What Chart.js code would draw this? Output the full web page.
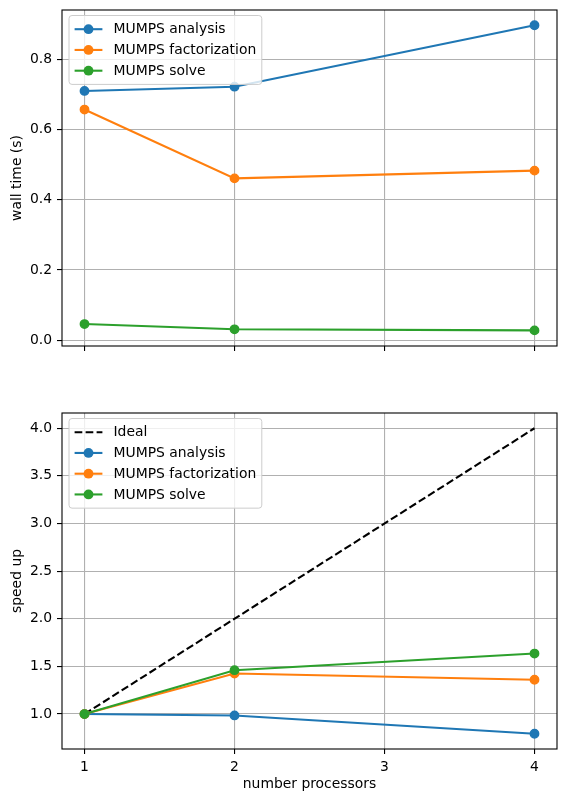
<!DOCTYPE html>
<html>
<head>
<meta charset="utf-8">
<script src="https://cdn.jsdelivr.net/npm/chart.js@4.4.0/dist/chart.umd.min.js"></script>
<style>
  html, body { margin: 0; padding: 0; background: #ffffff; }
  #wrap { position: relative; width: 567px; height: 802px; }
  canvas { position: absolute; left: 0; }
</style>
</head>
<body>
<div id="wrap">
  <canvas id="top" width="567" height="372" style="top:0px"></canvas>
  <canvas id="bottom" width="567" height="422" style="top:380px"></canvas>
</div>
<script>
// ---- data ----
const procs = [1, 2, 4];
const xTicks = [1, 2, 3, 4];
const timeTicks = [0.0, 0.2, 0.4, 0.6, 0.8];
const speedTicks = [1.0, 1.5, 2.0, 2.5, 3.0, 3.5, 4.0];

const timeAnalysis = [0.710, 0.722, 0.897];
const timeFactorization = [0.657, 0.461, 0.483];
const timeSolve = [0.046, 0.031, 0.028];

const idealProcs = [1, 4];
const idealSpeedup = [1, 4];
const speedAnalysis = [1.0, 0.985, 0.793];
const speedFactorization = [1.0, 1.425, 1.36];
const speedSolve = [1.0, 1.46, 1.635];

const seriesLabels = ['MUMPS analysis', 'MUMPS factorization', 'MUMPS solve'];
const seriesColors = ['#1f77b4', '#ff7f0e', '#2ca02c'];

// ---- helpers ----
const FS = 13.9;
Chart.defaults.font.family = '"DejaVu Sans", sans-serif';
Chart.defaults.font.size = FS;
Chart.defaults.color = '#000000';

function pts(xs, ys) { return xs.map((x, i) => ({ x: x, y: ys[i] })); }

function lineDs(label, xs, ys, color, order) {
  return {
    label: label, data: pts(xs, ys), borderColor: color, backgroundColor: color,
    borderWidth: 2.1, pointRadius: 4.2, pointHoverRadius: 4.2, pointBorderWidth: 1.4,
    pointBorderColor: color, pointBackgroundColor: color, tension: 0, fill: false, order: order
  };
}

const frameAndLegend = {
  id: 'frameAndLegend',
  afterDraw(chart) {
    const { ctx, chartArea: a } = chart;
    ctx.save();
    // axes box (spines)
    ctx.strokeStyle = '#000000';
    ctx.lineWidth = 1.1;
    ctx.setLineDash([]);
    ctx.strokeRect(a.left, a.top, a.right - a.left, a.bottom - a.top);
    // legend
    const ds = chart.data.datasets;
    ctx.font = FS + 'px "DejaVu Sans"';
    let maxW = 0;
    ds.forEach(d => { maxW = Math.max(maxW, ctx.measureText(d.label).width); });
    const x0 = a.left + 7, y0 = a.top + 5.5;
    const w = 5.6 + 27.8 + 11.1 + maxW + 5.6;
    const h = 27.4 + (ds.length - 1) * 20.75;
    const r = 3;
    ctx.beginPath();
    ctx.moveTo(x0 + r, y0);
    ctx.lineTo(x0 + w - r, y0); ctx.arcTo(x0 + w, y0, x0 + w, y0 + r, r);
    ctx.lineTo(x0 + w, y0 + h - r); ctx.arcTo(x0 + w, y0 + h, x0 + w - r, y0 + h, r);
    ctx.lineTo(x0 + r, y0 + h); ctx.arcTo(x0, y0 + h, x0, y0 + h - r, r);
    ctx.lineTo(x0, y0 + r); ctx.arcTo(x0, y0, x0 + r, y0, r);
    ctx.closePath();
    ctx.fillStyle = 'rgba(255,255,255,0.8)';
    ctx.fill();
    ctx.strokeStyle = '#cccccc';
    ctx.lineWidth = 1;
    ctx.stroke();
    ds.forEach((d, i) => {
      const y = y0 + 13.7 + i * 20.75;
      const lx1 = x0 + 5.6, lx2 = x0 + 33.4;
      ctx.beginPath();
      ctx.setLineDash(d.borderDash || []);
      ctx.strokeStyle = d.borderColor;
      ctx.lineWidth = d.borderWidth;
      ctx.moveTo(lx1, y); ctx.lineTo(lx2, y);
      ctx.stroke();
      ctx.setLineDash([]);
      if (d.pointRadius > 0) {
        ctx.beginPath();
        ctx.fillStyle = d.borderColor;
        ctx.arc((lx1 + lx2) / 2, y, d.pointRadius + (d.pointBorderWidth || 0) / 2, 0, Math.PI * 2);
        ctx.fill();
      }
      ctx.fillStyle = '#000000';
      ctx.textBaseline = 'middle';
      ctx.textAlign = 'left';
      ctx.fillText(d.label, x0 + 44.5, y + 0.5);
    });
    ctx.restore();
  }
};

function gridOpts() {
  return { color: '#b0b0b0', lineWidth: 1.1, tickColor: '#000000', tickLength: 5, tickWidth: 1.1, drawTicks: true };
}

function makeOptions(cfg) {
  return {
    responsive: false,
    animation: false,
    devicePixelRatio: window.devicePixelRatio || 1,
    layout: { padding: { top: cfg.padTop, right: 10, left: 0, bottom: 0 } },
    plugins: { legend: { display: false }, tooltip: { enabled: false } },
    scales: {
      x: {
        type: 'linear', position: 'bottom', min: 0.85, max: 4.15,
        grid: gridOpts(), border: { display: false },
        afterBuildTicks: s => { s.ticks = xTicks.map(v => ({ value: v })); },
        afterFit: s => { s.height = cfg.xHeight; s.paddingLeft = 0; s.paddingRight = 0; },
        ticks: { display: cfg.showXLabels, padding: 5, maxRotation: 0, callback: v => String(v) },
        title: { display: !!cfg.xTitle, text: cfg.xTitle || '', padding: { top: 0, bottom: 9.7 } }
      },
      y: {
        type: 'linear', position: 'left', min: cfg.yMin, max: cfg.yMax,
        grid: gridOpts(), border: { display: false },
        afterBuildTicks: s => { s.ticks = cfg.yTicks.map(v => ({ value: v })); },
        afterFit: s => { s.width = 62; s.paddingTop = 0; s.paddingBottom = 0; },
        ticks: { padding: 5, callback: v => Number(v).toFixed(1) },
        title: { display: true, text: cfg.yTitle, padding: { top: 9.3, bottom: 0 } }
      }
    }
  };
}

new Chart(document.getElementById('top'), {
  type: 'line',
  data: {
    datasets: [
      lineDs(seriesLabels[0], procs, timeAnalysis, seriesColors[0], 3),
      lineDs(seriesLabels[1], procs, timeFactorization, seriesColors[1], 2),
      lineDs(seriesLabels[2], procs, timeSolve, seriesColors[2], 1)
    ]
  },
  options: makeOptions({ padTop: 10, xHeight: 26, showXLabels: false, yMin: -0.0165, yMax: 0.9405,
                         yTicks: timeTicks, yTitle: 'wall time (s)' }),
  plugins: [frameAndLegend]
});

const idealDs = {
  label: 'Ideal', data: pts(idealProcs, idealSpeedup), borderColor: '#000000', backgroundColor: '#000000',
  borderWidth: 2.1, borderDash: [7.7, 3.3], pointRadius: 0, pointHoverRadius: 0, tension: 0, fill: false, order: 4
};

new Chart(document.getElementById('bottom'), {
  type: 'line',
  data: {
    datasets: [
      idealDs,
      lineDs(seriesLabels[0], procs, speedAnalysis, seriesColors[0], 3),
      lineDs(seriesLabels[1], procs, speedFactorization, seriesColors[1], 2),
      lineDs(seriesLabels[2], procs, speedSolve, seriesColors[2], 1)
    ]
  },
  options: makeOptions({ padTop: 33, xHeight: 53, showXLabels: true, yMin: 0.633, yMax: 4.16,
                         yTicks: speedTicks, yTitle: 'speed up', xTitle: 'number processors' }),
  plugins: [frameAndLegend]
});
</script>
</body>
</html>
